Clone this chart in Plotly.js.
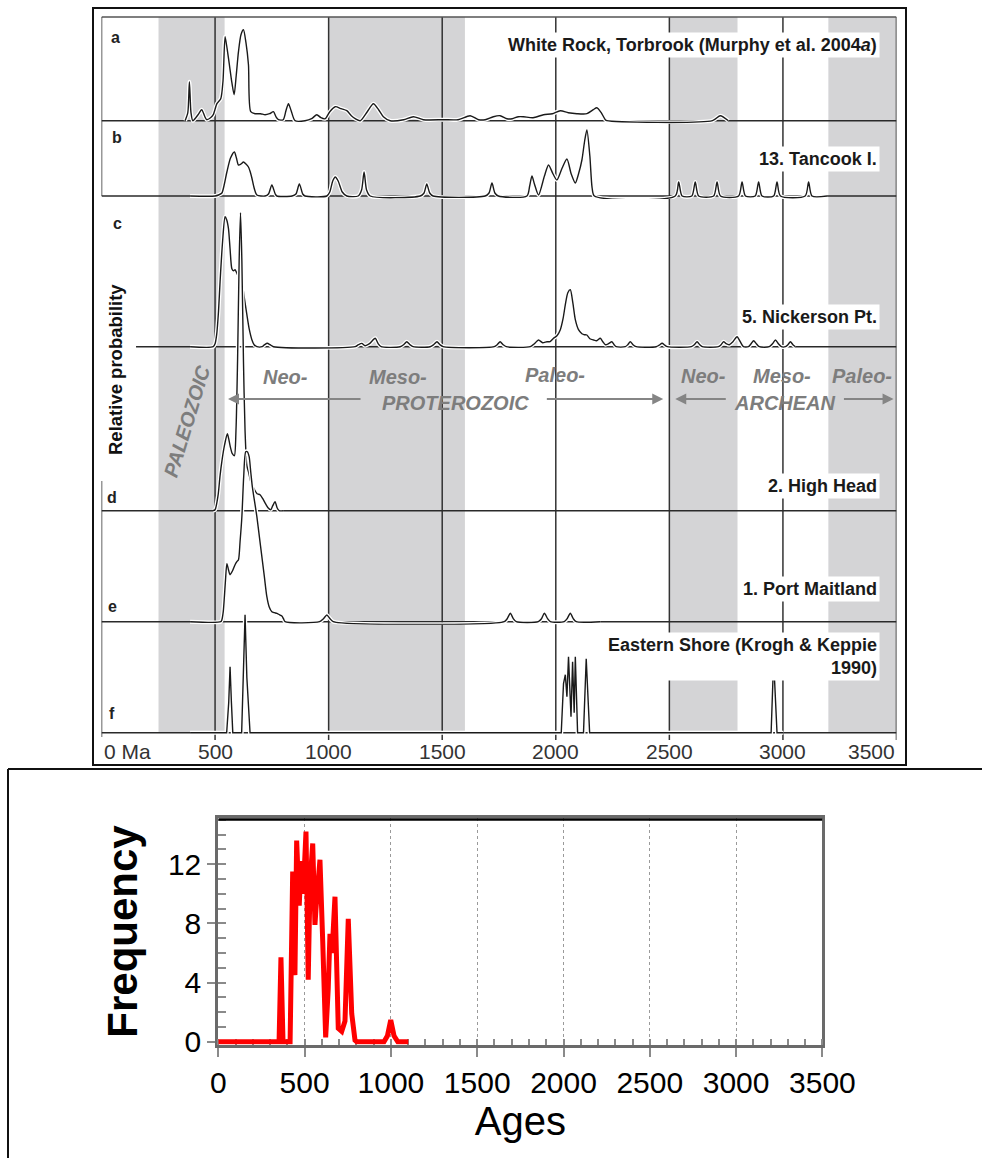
<!DOCTYPE html>
<html>
<head>
<meta charset="utf-8">
<script src="https://cdn.plot.ly/plotly-3.0.1.min.js"></script>
<style>html,body{margin:0;padding:0;background:#fff}#chart{width:982px;height:1158px}</style>
</head>
<body>
<div id="chart"></div>
<script>
// ---------------- DATA ----------------
const panelLetters = ['a', 'b', 'c', 'd', 'e', 'f'];
const sampleNames = [
  'White Rock, Torbrook (Murphy et al. 2004<i>a</i>)',
  '13. Tancook I.',
  '5. Nickerson Pt.',
  '2. High Head',
  '1. Port Maitland',
  'Eastern Shore (Krogh &amp; Keppie<br>1990)'
];

// a  White Rock, Torbrook
const aAge  = [368,380,387,394,402,425,441,455,463,480,492,508,525,535,544,553,563,574,584,593,603,614,625,636,647,657,676,700,720,740,757,768,779,800,812,823,835,852,896,925,948,966,985,1005,1029,1055,1080,1100,1117,1139,1170,1197,1220,1241,1271,1330,1373,1417,1506,1570,1623,1660,1689,1725,1755,1785,1808,1835,1858,1900,1946,1985,2020,2055,2093,2137,2165,2181,2200,2218,2225,2690,2724,2760];
const aProb = [0,8,39,8,0,6,11,4,1,3,6,17,22,40,84,72,56,38,26,45,69,86,91,78,56,9,7,7,6,7,9,4,1,1,10,17,10,0,0,2,6,3,2,9,14,12,10,5,2,0,9,17,11,4,0,1,4,1,1,1,5,1,1,4,5,2,2,4,4,3,6,7,10,8,7,7,11,13,8,1,0,0,5,0];

// b  13. Tancook I.
const bAge  = [390,500,515,530,541,552,568,585,594,603,614,625,636,647,655,662,672,684,720,735,750,765,772,839,856,871,886,896,992,1005,1018,1029,1042,1060,1080,1130,1145,1156,1167,1183,1403,1420,1432,1445,1460,1689,1706,1719,1732,1747,1873,1885,1895,1906,1924,1950,1968,1988,2005,2028,2049,2068,2086,2100,2115,2127,2137,2150,2160,2170,2526,2541,2556,2599,2614,2629,2695,2710,2725,2805,2820,2835,2878,2893,2908,2959,2974,2989,3098,3113,3128,3194];
const bProb = [0,0,1,3,12,24,38,44,38,31,32,34,32,29,24,18,8,1,0,2,11,2,0,0,2,12,2,0,0,4,15,19,15,4,0,0,6,24,6,0,0,3,12,3,0,0,3,13,3,0,0,10,20,12,1,20,31,22,16,28,37,22,13,22,36,55,66,40,8,0,0,14,0,0,14,0,0,14,0,0,14,0,0,14,0,0,14,0,0,14,0,0];

// c  5. Nickerson Pt.
const cAge  = [390,492,500,507,515,522,533,544,551,559,566,574,581,588,595,603,610,618,628,640,650,662,672,684,707,718,730,742,757,1117,1131,1146,1160,1180,1205,1218,1231,1315,1330,1344,1358,1372,1447,1462,1477,1490,1504,1729,1742,1755,1768,1782,1888,1906,1924,1942,1961,1975,1990,2005,2020,2032,2042,2053,2064,2075,2086,2100,2115,2126,2137,2150,2166,2180,2196,2207,2218,2232,2247,2257,2266,2306,2317,2328,2340,2354,2442,2455,2468,2480,2491,2597,2610,2622,2634,2645,2716,2728,2739,2750,2764,2780,2798,2812,2826,2848,2860,2871,2883,2896,2940,2954,2967,2980,2993,3011,3022,3033,3044,3055];
const cProb = [0,0,3,12,35,65,105,130,127,118,98,78,76,77,74,70,68,65,50,32,18,7,2,0,0,2,3.4,2,0,0,2,3.3,1,3,8.4,3,0,0,2,5,2,0,0,2,5,2,0,0,2,5,2,0,0,3,6.7,4,5,5,8.4,11,17,28,42,54,57,44,27,17,13,12,11.7,8,6.7,6,8.4,5,2,3,5,2,0,0,2,5,2,0,0,1.5,3.4,1.5,0,0,2,5,2,0,0,2,5,3,2,5,10,5,0,0,3,6,3,0,0,3,6.7,3,0,0,2,5,2,0];

// d  2. High Head
const dAge  = [491,500,513,522,531,542,554,560,566,576,585,592,599,606,612,618,625,632,640,648,656,669,685,698,710,722,733,745,754,764,773,782,800];
const dProb = [0,1,15,35,51,66,77,72,65,57,55,80,150,250,298,250,150,80,45,38,30,23,17,16,12,7,3,1,5,9,3,0,0];

// e  1. Port Maitland
const eAge  = [390,525,530,536,541,546,552,559,566,577,588,596,603,610,618,626,635,642,650,657,664,674,684,695,706,717,728,738,750,761,772,783,794,801,808,960,977,992,1006,1020,1773,1786,1800,1813,1826,1923,1937,1950,1964,1976,2037,2050,2064,2077,2090,2196];
const eProb = [0,0,2,10,25,42,58,52,47,51,57,60,62,80,105,145,170,170,165,150,135,120,105,85,65,45,25,15,10,9,8.4,7,5.7,3,0,0,3,6.7,3,0,0,3,8.4,3,0,0,3,8.4,3,0,0,3,8.4,3,0,0];

// f  Eastern Shore (Krogh & Keppie 1990)
const fAge  = [390,551,560,566,572,578,617,625,632,640,654,2024,2034,2042,2049,2056,2067,2074,2081,2086,2096,2122,2134,2149,2948,2959,2974,3002];
const fProb = [0,0,30,66,30,0,0,55,118,55,0,0,49,58,36,76,16,71,20,76,0,0,74,0,0,73,0,0];

// time-scale bands and ticks
const bandStart = [251, 1000, 2500, 3200];
const bandEnd   = [542, 1600, 2800, 3500];
const topTickVals = [0, 500, 1000, 1500, 2000, 2500, 3000, 3500];
const topTickText = ['0 Ma', '500', '1000', '1500', '2000', '2500', '3000', '3500'];
const eraWords = ['Neo-', 'Meso-', 'PROTEROZOIC', 'Paleo-', 'Neo-', 'Meso-', 'ARCHEAN', 'Paleo-'];

// lower chart: frequency vs ages
const ages      = [0,352,363,375,416,425,431,438,444,454,463,469,477,483,492,500,508,515,521,527,533,547,554,560,566,574,589,605,614,622,637,647,653,659,676,686,695,715,734,753,773,792,802,960,980,999,1018,1040,1101];
const frequency = [0,0,5.7,0,0,9,11.5,8,4.5,13.6,11,9.2,11.5,12.2,10,12,14.2,9,4.2,8,11,13.4,10,7.9,9,10.5,12.3,6.8,2,0.3,3.6,7.3,6.5,6,9.8,5,0.9,0.7,1.4,8.3,1.9,0.1,0,0,0.4,1.47,0.4,0,0];

// ---------------- LAYOUT HELPERS ----------------
const W = 982, H = 1158;
const fx = p => p / W;
const fy = p => 1 - p / H;
const FAM = 'Liberation Sans, Arial, Helvetica, sans-serif';

const panelBaselinePx = [120.7, 196, 346.7, 510.7, 621.7, 732.7];
const panelHeadroomPx = [100, 80, 140, 305, 180, 125];
const baselineStart = [0, 0, 152, 0, 0, 0];
const letterPos = [[115, 38], [117, 138], [117, 224], [112, 497], [112, 606], [112, 713]];
const namePosY = [45, 159, 317, 486, 589, 656];
const eraPos = [[285, 377], [398, 377], [455, 403], [555, 375], [703, 376], [782, 376], [785, 403], [862, 376]];
const arrowPairs = [[1147, 557], [1954, 2473], [2755, 2526], [3262, 3487]];

const series = [[aAge, aProb], [bAge, bProb], [cAge, cProb], [dAge, dProb], [eAge, eProb], [fAge, fProb]];
const yId = i => (i === 0 ? 'y' : 'y' + (i + 1));
const yKey = i => (i === 0 ? 'yaxis' : 'yaxis' + (i + 1));

const traces = [];
series.forEach(([x, y], i) => {
  const shape = i === 5 ? 'linear' : 'spline';
  traces.push({type: 'scatter', mode: 'lines', x, y, xaxis: 'x', yaxis: yId(i),
    line: {color: '#ffffff', width: 4, shape, smoothing: 0.7}, hoverinfo: 'skip', showlegend: false});
  traces.push({type: 'scatter', mode: 'lines', x, y, xaxis: 'x', yaxis: yId(i),
    line: {color: '#1a1a1a', width: 1.4, shape, smoothing: 0.7}, name: sampleNames[i], showlegend: false});
});
traces.push({type: 'scatter', mode: 'lines', x: ages, y: frequency, xaxis: 'x2', yaxis: 'y7',
  line: {color: '#ff0000', width: 5}, name: 'Frequency', showlegend: false});

const layout = {
  width: W, height: H, autosize: false,
  margin: {l: 0, r: 0, t: 0, b: 0},
  paper_bgcolor: '#ffffff', plot_bgcolor: 'rgba(0,0,0,0)',
  showlegend: false,
  font: {family: FAM, color: '#000'},
  xaxis: {domain: [fx(101.5), fx(896.5)], range: [0, 3500], anchor: 'y6',
    showgrid: false, zeroline: false, showline: false, showticklabels: false, ticks: '', fixedrange: true},
  xaxis2: {domain: [fx(218.3), fx(822.4)], range: [0, 3500], anchor: 'y7', layer: 'below traces',
    tick0: 0, dtick: 500, ticks: 'outside', ticklen: 9, tickwidth: 2, tickcolor: '#8a8a8a',
    minor: {dtick: 100, ticks: 'inside', ticklen: 6, tickwidth: 2, tickcolor: '#8a8a8a', showgrid: false},
    showline: true, linecolor: '#6a6a6a', linewidth: 3, mirror: true,
    showgrid: true, gridcolor: '#9a9a9a', griddash: 'dot', gridwidth: 1, zeroline: false,
    tickfont: {size: 30, color: '#000', family: FAM},
    title: {text: 'Ages', font: {size: 40, color: '#000', family: FAM}, standoff: 2}},
  yaxis7: {domain: [fy(1044.7), fy(818.3)], range: [-0.2, 15.1], anchor: 'x2', layer: 'below traces',
    tick0: 0, dtick: 4, ticks: 'outside', ticklen: 8, tickwidth: 2, tickcolor: '#8a8a8a',
    minor: {dtick: 1, ticks: 'inside', ticklen: 8, tickwidth: 2, tickcolor: '#8a8a8a', showgrid: false},
    showline: true, linecolor: '#6a6a6a', linewidth: 3, mirror: true,
    showgrid: false, zeroline: false,
    tickfont: {size: 30, color: '#000', family: FAM},
    title: {text: '<b>Frequency</b>', font: {size: 42, color: '#000', family: FAM}, standoff: 18}},
  shapes: [],
  annotations: []
};

panelBaselinePx.forEach((B, i) => {
  const h = panelHeadroomPx[i];
  layout[yKey(i)] = {domain: [fy(B + 3), fy(B - h)], range: [-3, h], anchor: 'x',
    showgrid: false, zeroline: false, showline: false, showticklabels: false, ticks: '', fixedrange: true};
});

const S = layout.shapes;
// gray time-scale bands
bandStart.forEach((s, i) => S.push({type: 'rect', xref: 'x', yref: 'paper', x0: s, x1: bandEnd[i],
  y0: fy(732.7), y1: fy(17), fillcolor: '#d4d4d6', line: {width: 0}, layer: 'below'}));
// vertical guide lines
topTickVals.slice(1, -1).forEach(v => S.push({type: 'line', xref: 'x', yref: 'paper', x0: v, x1: v,
  y0: fy(740), y1: fy(17), line: {color: '#333', width: 1.5}, layer: 'below'}));
// inner frame
S.push({type: 'line', xref: 'x', yref: 'paper', x0: 3500, x1: 3500, y0: fy(740), y1: fy(17), line: {color: '#333', width: 1.6}, layer: 'below'});
S.push({type: 'line', xref: 'x', yref: 'paper', x0: 0, x1: 3500, y0: fy(17), y1: fy(17), line: {color: '#555', width: 1.5}, layer: 'below'});
S.push({type: 'line', xref: 'x', yref: 'paper', x0: 0, x1: 0, y0: fy(196), y1: fy(17), line: {color: '#333', width: 1.5}, layer: 'below'});
S.push({type: 'line', xref: 'x', yref: 'paper', x0: 0, x1: 0, y0: fy(737), y1: fy(481), line: {color: '#333', width: 1.5}, layer: 'below'});
// panel baselines
panelBaselinePx.forEach((B, i) => S.push({type: 'line', xref: 'x', yref: yId(i), x0: baselineStart[i], x1: 3500,
  y0: 0, y1: 0, line: {color: '#2a2a2a', width: 1.5}, layer: 'below'}));
// outer borders
S.push({type: 'rect', xref: 'paper', yref: 'paper', x0: fx(93), x1: fx(906), y0: fy(765), y1: fy(8), line: {color: '#111', width: 2}});
S.push({type: 'line', xref: 'paper', yref: 'paper', x0: fx(8), x1: fx(8), y0: fy(1158), y1: fy(769), line: {color: '#111', width: 2}});
S.push({type: 'line', xref: 'paper', yref: 'paper', x0: fx(8), x1: 1, y0: fy(769), y1: fy(769), line: {color: '#111', width: 2}});
// thick black top border of lower chart
S.push({type: 'line', xref: 'x2', yref: 'y7', x0: 0, x1: 3500, y0: 15.1, y1: 15.1, line: {color: '#000', width: 5}});

const A = layout.annotations;
panelLetters.forEach((t, i) => A.push({text: '<b>' + t + '</b>', xref: 'paper', yref: 'paper',
  x: fx(letterPos[i][0]), y: fy(letterPos[i][1]), showarrow: false, xanchor: 'center', yanchor: 'middle',
  font: {size: 16, color: '#222', family: FAM}}));
sampleNames.forEach((t, i) => A.push({text: '<b>' + t + '</b>', xref: 'paper', yref: 'paper',
  x: fx(880), y: fy(namePosY[i]), showarrow: false, xanchor: 'right', yanchor: 'middle', align: 'right',
  bgcolor: '#ffffff', borderpad: 2, font: {size: 18, color: '#1a1a1a', family: FAM}}));
A.push({text: '<b>Relative probability</b>', xref: 'paper', yref: 'paper', x: fx(116), y: fy(370),
  textangle: -90, showarrow: false, xanchor: 'center', yanchor: 'middle', font: {size: 18.5, color: '#111', family: FAM}});
A.push({text: '<b><i>PALEOZOIC</i></b>', xref: 'paper', yref: 'paper', x: fx(187), y: fy(421),
  textangle: -73, showarrow: false, xanchor: 'center', yanchor: 'middle', font: {size: 20, color: '#7d7d7d', family: FAM}});
eraWords.forEach((t, i) => A.push({text: '<b><i>' + t + '</i></b>', xref: 'paper', yref: 'paper',
  x: fx(eraPos[i][0]), y: fy(eraPos[i][1]), showarrow: false, xanchor: 'center', yanchor: 'middle',
  font: {size: 20, color: '#7d7d7d', family: FAM}}));
arrowPairs.forEach(([tail, head]) => A.push({text: '', xref: 'x', yref: 'paper', x: head, y: fy(399),
  axref: 'x', ax: tail, ayref: 'pixel', ay: 0, showarrow: true, arrowhead: 2, arrowsize: 1.1, arrowwidth: 2,
  arrowcolor: '#858585', standoff: 0, startstandoff: 0}));
topTickVals.forEach((v, i) => A.push({text: topTickText[i], xref: 'x', yref: 'paper', x: v, y: fy(751),
  showarrow: false, xanchor: i === 0 ? 'left' : (i === topTickVals.length - 1 ? 'right' : 'center'), yanchor: 'middle',
  font: {size: 21, color: '#333', family: FAM}}));

Plotly.newPlot('chart', traces, layout, {staticPlot: true, displayModeBar: false});
</script>
</body>
</html>
